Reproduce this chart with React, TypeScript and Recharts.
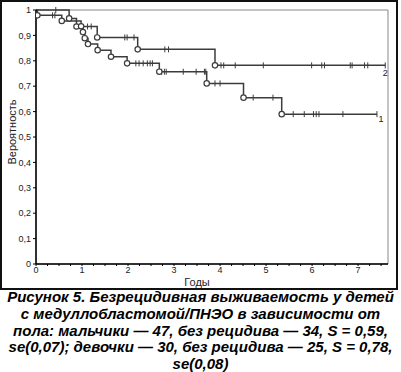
import { ComposedChart, Line, Scatter, XAxis, YAxis, ReferenceArea } from "recharts";

// Boys (curve 1): relapse times (years) and survival after each relapse
const boysEventTime = [0.03, 0.56, 0.98, 1.02, 1.06, 1.13, 1.34, 1.63, 1.98, 2.68, 3.71, 4.51, 5.34];
const boysEventSurv = [0.979, 0.957, 0.936, 0.913, 0.889, 0.866, 0.842, 0.816, 0.79, 0.757, 0.711, 0.655, 0.59];
const boysCensored = [0.36, 0.41, 2.17, 2.24, 2.33, 2.42, 2.48, 2.53, 2.73, 2.79, 2.83, 3.2, 3.48, 3.66, 3.69, 3.89, 4.0, 4.72, 5.15, 5.59, 5.83, 6.03, 6.09, 6.15, 6.67, 7.41];
const boysEnd = 7.41;

// Girls (curve 2)
const girlsEventTime = [0.72, 0.88, 1.33, 2.21, 3.89];
const girlsEventSurv = [0.967, 0.935, 0.892, 0.845, 0.782];
const girlsCensored = [0.43, 1.12, 1.2, 1.93, 1.98, 2.13, 2.8, 2.88, 4.02, 4.08, 4.33, 4.94, 5.99, 6.21, 6.27, 6.83, 6.87, 7.14, 7.21, 7.59];
const girlsEnd = 7.59;

const yTicks = [0, 0.1, 0.2, 0.3, 0.4, 0.5, 0.6, 0.7, 0.8, 0.9, 1];
const yTickLabels = ["0", "0,1", "0,2", "0,3", "0,4", "0,5", "0,6", "0,7", "0,8", "0,9", "1"];
const xTicks = Array.from({ length: 31 }, (_, i) => i / 4);

const caption = [
  "Рисунок 5. Безрецидивная выживаемость у детей",
  "с медуллобластомой/ПНЭО в зависимости от",
  "пола: мальчики — 47, без рецидива — 34, S = 0,59,",
  "se(0,07); девочки — 30, без рецидива — 25, S = 0,78,",
  "se(0,08)",
];

const LINE = "#3c3c3c";
const FONT = '"Liberation Sans", Arial, sans-serif';

// step curve: start at 1, one point per relapse, end at last follow-up
const stepData = (times: number[], surv: number[], end: number) => [
  { t: 0, s: 1 },
  ...times.map((t, i) => ({ t, s: surv[i] })),
  { t: end, s: surv[surv.length - 1] },
];

const levelAt = (times: number[], surv: number[], t: number) => {
  let s = 1;
  times.forEach((et, i) => {
    if (et <= t) s = surv[i];
  });
  return s;
};

const boysLine = stepData(boysEventTime, boysEventSurv, boysEnd);
const girlsLine = stepData(girlsEventTime, girlsEventSurv, girlsEnd);
const boysEvents = boysEventTime.map((t, i) => ({ t, s: boysEventSurv[i] }));
const girlsEvents = girlsEventTime.map((t, i) => ({ t, s: girlsEventSurv[i] }));
const boysCens = boysCensored.map((t) => ({ t, s: levelAt(boysEventTime, boysEventSurv, t) }));
const girlsCens = girlsCensored.map((t) => ({ t, s: levelAt(girlsEventTime, girlsEventSurv, t) }));

const CircleMark = (props: any) => (
  <circle cx={props.cx} cy={props.cy} r={2.7} fill="#fff" stroke={LINE} strokeWidth={1.2} />
);

const CensorMark = (props: any) => (
  <line x1={props.cx} x2={props.cx} y1={props.cy - 3} y2={props.cy + 3} stroke={LINE} strokeWidth={1} />
);

const endLabel = (text: string, dx: number, dy: number, lastIndex: number) => (props: any) => {
  if (props.index !== lastIndex) return null;
  return (
    <text x={props.x + dx} y={props.y + dy} fontSize={9} fontFamily={FONT} fill="#222" textAnchor="middle">
      {text}
    </text>
  );
};

export default function App() {
  return (
    <div style={{ position: "absolute", left: 0, top: 0, width: 401, height: 372, background: "#fff", fontFamily: FONT }}>
      <div
        style={{
          position: "absolute",
          left: 0,
          top: 0,
          width: 398,
          height: 290,
          border: "2px solid #111",
          boxSizing: "border-box",
        }}
      />
      <div style={{ position: "absolute", left: 0, top: 0 }}>
        <ComposedChart width={401} height={290} margin={{ top: 10, right: 13, bottom: 0, left: 0 }}>
          <XAxis
            dataKey="t"
            type="number"
            domain={[0, 7.65]}
            ticks={xTicks}
            interval={0}
            allowDataOverflow
            height={26}
            tickFormatter={(v: number) => (Number.isInteger(v) ? String(v) : "")}
            tick={{ fontSize: 9, fill: "#222", fontFamily: FONT }}
            tickSize={2}
            tickMargin={1}
            axisLine={{ stroke: "#000", strokeWidth: 1.5 }}
            tickLine={{ stroke: "#000" }}
            label={{ value: "Годы", position: "center", dx: -15, dy: 5, fontSize: 11, fill: "#222", fontFamily: FONT }}
          />
          <YAxis
            type="number"
            domain={[0, 1]}
            ticks={yTicks}
            interval={0}
            width={36}
            tickFormatter={(v: number) => yTickLabels[yTicks.indexOf(v)]}
            tick={{ fontSize: 9, fill: "#222", fontFamily: FONT }}
            tickSize={3}
            tickMargin={2}
            axisLine={{ stroke: "#000", strokeWidth: 1.5 }}
            tickLine={{ stroke: "#000" }}
            label={{ value: "Вероятность", angle: -90, position: "center", dx: -6, dy: -5, fontSize: 11, fill: "#222", fontFamily: FONT }}
          />
          <ReferenceArea x1={0} x2={7.65} y1={0} y2={1} fill="none" stroke="#888" strokeWidth={1} />
          <Line
            data={girlsLine}
            dataKey="s"
            type="stepAfter"
            stroke={LINE}
            strokeWidth={1.5}
            dot={false}
            isAnimationActive={false}
            label={endLabel("2", 0, 10.5, girlsLine.length - 1)}
          />
          <Line
            data={boysLine}
            dataKey="s"
            type="stepAfter"
            stroke={LINE}
            strokeWidth={1.5}
            dot={false}
            isAnimationActive={false}
            label={endLabel("1", 4, 7.5, boysLine.length - 1)}
          />
          <Scatter data={girlsCens} dataKey="s" shape={CensorMark} isAnimationActive={false} />
          <Scatter data={boysCens} dataKey="s" shape={CensorMark} isAnimationActive={false} />
          <Scatter data={girlsEvents} dataKey="s" shape={CircleMark} isAnimationActive={false} />
          <Scatter data={boysEvents} dataKey="s" shape={CircleMark} isAnimationActive={false} />
        </ComposedChart>
      </div>
      <div
        style={{
          position: "absolute",
          left: 0,
          top: 289,
          width: 401,
          textAlign: "center",
          fontWeight: "bold",
          fontStyle: "italic",
          fontSize: 15,
          lineHeight: "16.8px",
          color: "#000",
        }}
      >
        {caption.map((line) => (
          <div key={line} style={{ whiteSpace: "nowrap" }}>
            {line}
          </div>
        ))}
      </div>
    </div>
  );
}
